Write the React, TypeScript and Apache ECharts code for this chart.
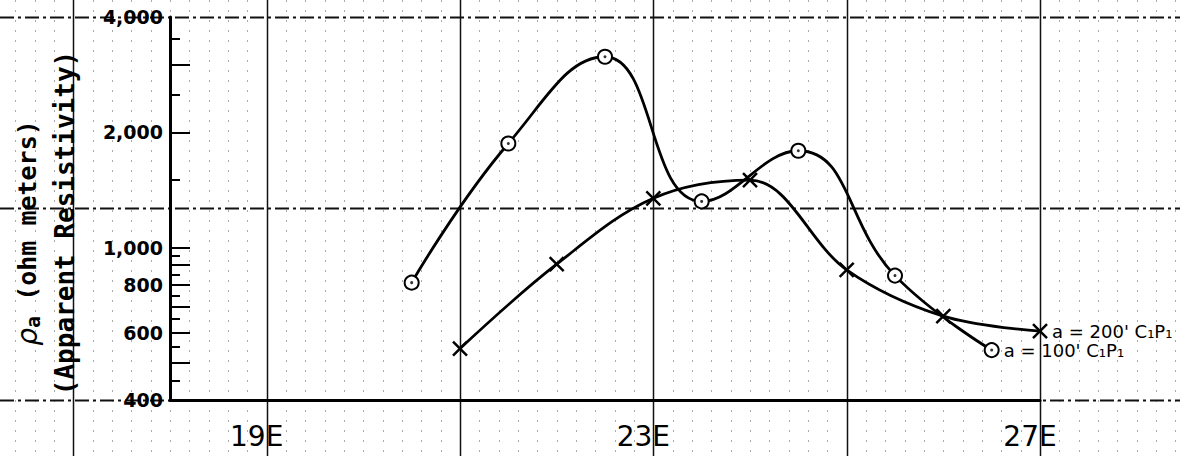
import React, { useEffect, useRef } from 'react';
import * as echarts from 'echarts';

// a = 100' C1P1 (circles)
const stations100 = [20.5, 21.5, 22.5, 23.5, 24.5, 25.5, 26.5];
const rho100 = [810, 1870, 3150, 1320, 1790, 845, 540];
// a = 200' C1P1 (crosses)
const stations200 = [21, 22, 23, 24, 25, 26, 27];
const rho200 = [545, 905, 1345, 1500, 875, 662, 605];

const xLabelValues = [19, 23, 27];
const yLabelValues = [400, 600, 800, 1000, 2000, 4000];
const yLongTicks = [500, 600, 700, 800, 900, 1000, 2000, 3000];
const yShortTicks = [450, 550, 650, 750, 850, 950, 1500, 2500, 3500];
const paperMajorX = [17, 19, 21, 23, 25, 27];
const paperMajorY = [400, 1265, 4000];

const label100 = "a = 100' C\u2081P\u2081";
const label200 = "a = 200' C\u2081P\u2081";

const W = 1180;
const H = 456;

export default function App() {
  const ref = useRef<HTMLDivElement>(null);
  useEffect(() => {
    document.body.style.margin = '0';
    const chart = echarts.init(ref.current!, undefined, { renderer: 'svg' });
    const data100 = stations100.map((x, i) => [x, rho100[i]]);
    const data200 = stations200.map((x, i) => [x, rho200[i]]);
    const font = 'DejaVu Sans';
    chart.setOption({
      animation: false,
      backgroundColor: '#ffffff',
      grid: { left: 170, right: 140, top: 17, bottom: 56, containLabel: false },
      xAxis: {
        type: 'value',
        min: 18,
        max: 27,
        interval: 1,
        axisLine: { show: true, lineStyle: { color: '#000', width: 3 } },
        axisTick: { show: false },
        splitLine: { show: false },
        axisLabel: {
          customValues: xLabelValues,
          formatter: (v: number) => `${v}E`,
          fontFamily: font,
          fontSize: 28,
          color: '#000',
          margin: 22,
          padding: [0, 20, 0, 0],
        },
      },
      yAxis: [
        {
          type: 'log',
          logBase: 10,
          min: 400,
          max: 4000,
          position: 'left',
          axisLine: { show: true, lineStyle: { color: '#000', width: 3 } },
          axisTick: { show: true, inside: true, length: 20, customValues: yLongTicks, lineStyle: { color: '#000', width: 2 } },
          splitLine: { show: false },
          axisLabel: {
            customValues: yLabelValues,
            formatter: (v: number) => Math.round(v).toLocaleString('en-US'),
            fontFamily: font,
            fontWeight: 'bold',
            fontSize: 19,
            color: '#000',
            margin: 7,
          },
        },
        {
          type: 'log',
          logBase: 10,
          min: 400,
          max: 4000,
          position: 'left',
          offset: 0,
          axisLine: { show: false },
          axisTick: { show: true, inside: true, length: 10, customValues: yShortTicks, lineStyle: { color: '#000', width: 2 } },
          splitLine: { show: false },
          axisLabel: { show: false },
        },
      ],
      series: [
        {
          type: 'line',
          data: data100,
          smooth: 0.45,
          symbol: 'emptyCircle',
          symbolSize: 14,
          lineStyle: { color: '#000', width: 2.8 },
          itemStyle: { color: '#000', borderColor: '#000', borderWidth: 2 },
          endLabel: { show: true, formatter: label100, distance: 12, fontFamily: font, fontSize: 18, color: '#000' },
          z: 3,
        },
        {
          type: 'scatter',
          data: data100,
          symbol: 'circle',
          symbolSize: 3,
          itemStyle: { color: '#000' },
          z: 4,
        },
        {
          type: 'line',
          data: data200,
          smooth: 0.35,
          symbol: 'path://M0,0L10,10M10,0L0,10',
          symbolSize: 14,
          lineStyle: { color: '#000', width: 2.8 },
          itemStyle: { color: 'none', borderColor: '#000', borderWidth: 2.5 },
          endLabel: { show: true, formatter: label200, distance: 12, fontFamily: font, fontSize: 18, color: '#000' },
          z: 3,
        },
      ],
    });

    const px = (v: number) => chart.convertToPixel({ xAxisIndex: 0 }, v) as number;
    const py = (v: number) => chart.convertToPixel({ yAxisIndex: 0 }, v) as number;
    const graphics: any[] = [];
    // faint minor paper lines
    for (let k = 80; k <= 146; k++) {
      if (k % 10 === 5) continue;
      const x = Math.round(px(k / 5)) + 0.5;
      if (x < 0 || x > W) continue;
      graphics.push({
        type: 'line', z: -10, silent: true,
        shape: { x1: x, y1: 0, x2: x, y2: H },
        style: { stroke: '#aaaaaa', lineWidth: 1, lineDash: [2, 8] },
      });
    }
    paperMajorX.forEach((v) => {
      const x = Math.round(px(v)) + 0.5;
      graphics.push({
        type: 'line', z: -5, silent: true,
        shape: { x1: x, y1: 0, x2: x, y2: H },
        style: { stroke: '#111', lineWidth: 1.5 },
      });
    });
    paperMajorY.forEach((v) => {
      const y = Math.round(py(v)) + 0.5;
      graphics.push({
        type: 'line', z: -5, silent: true,
        shape: { x1: 0, y1: y, x2: W, y2: y },
        style: { stroke: '#111', lineWidth: 2, lineDash: [14, 4, 3, 4] },
      });
    });
    graphics.push({
      type: 'text', z: 5, x: 27, y: 233, rotation: Math.PI / 2,
      style: {
        text: '{r|\u03c1}{s|a} (ohm meters)',
        fontFamily: 'DejaVu Sans Mono', fontWeight: 'bold', fontSize: 25, fill: '#000',
        align: 'center', verticalAlign: 'middle',
        rich: {
          r: { fontFamily: 'DejaVu Sans', fontSize: 28, fontStyle: 'italic' },
          s: { fontFamily: 'DejaVu Sans Mono', fontWeight: 'bold', fontSize: 20, padding: [12, 0, 0, 0] },
        },
      },
    });
    graphics.push({
      type: 'text', z: 5, x: 65, y: 223, rotation: Math.PI / 2,
      style: {
        text: '(Apparent Resistivity)',
        fontFamily: 'DejaVu Sans Mono', fontWeight: 'bold', fontSize: 26, fill: '#000',
        align: 'center', verticalAlign: 'middle',
      },
    });
    chart.setOption({ graphic: graphics });
    return () => chart.dispose();
  }, []);
  return <div ref={ref} style={{ position: 'fixed', left: 0, top: 0, width: W, height: H, background: '#fff' }} />;
}
